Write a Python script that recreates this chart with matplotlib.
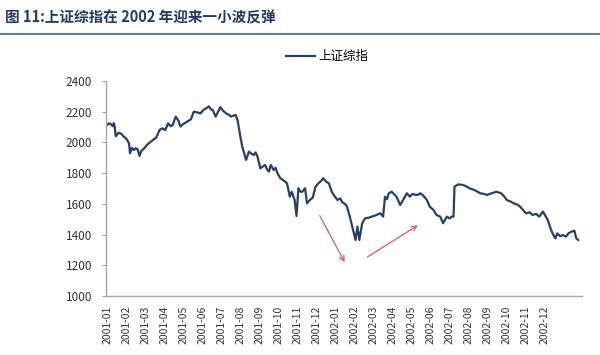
import matplotlib
matplotlib.use('Agg')
import numpy as np
import matplotlib.pyplot as plt

plt.rcParams['font.family'] = ['Noto Sans CJK SC', 'DejaVu Sans']
plt.rcParams['axes.unicode_minus'] = False

# ====================== 数据 ======================
# 交易日序号（每 20 个交易日一个月份标签）与上证综指收盘
days = [0, 2, 4, 6, 7, 8, 9, 12, 15, 17,
        20, 23, 24, 26, 28, 30, 32, 34, 36, 39,
        42, 46, 49, 51, 53, 55, 58, 61, 64, 67,
        69, 72, 75, 77, 80, 84, 88, 91, 95, 98,
        101, 104, 107, 109, 111, 114, 117, 119, 122, 125,
        128, 130, 133, 135, 137, 140, 142, 144, 146, 149,
        152, 154, 156, 158, 161, 164, 166, 168, 170, 172,
        175, 177, 179, 182, 186, 189, 192, 194, 197, 199,
        201, 203, 205, 208, 210, 213, 216, 219, 222, 225,
        227, 230, 233, 236, 239, 242, 245, 247, 250, 252,
        255, 258, 261, 263, 265, 268, 271, 275, 278, 282,
        287, 290, 292, 294, 296, 299, 302, 304, 308, 311,
        315, 318, 321, 324, 327, 329, 332, 336, 339, 343,
        346, 350, 353, 357, 360, 362, 364, 365, 369, 374,
        378, 381, 386, 389, 392, 396, 399, 404, 409, 414,
        417, 420, 424, 427, 431, 434, 437, 440, 444, 447,
        451, 454, 458, 463, 466, 468, 471, 473, 476, 479,
        482, 485, 488, 491, 493, 495]
close = [2113, 2125, 2118, 2105, 2125, 2100, 2040, 2063, 2055, 2040,
         2025, 1994, 1929, 1965, 1950, 1962, 1955, 1912, 1945, 1962,
         1985, 2005, 2020, 2027, 2050, 2081, 2092, 2080, 2124, 2105,
         2114, 2168, 2140, 2103, 2120, 2135, 2150, 2200, 2195, 2189,
         2210, 2222, 2235, 2215, 2211, 2168, 2205, 2229, 2205, 2189,
         2180, 2168, 2175, 2179, 2146, 2037, 1972, 1930, 1886, 1940,
         1925, 1918, 1935, 1907, 1831, 1845, 1853, 1825, 1810, 1853,
         1820, 1835, 1799, 1767, 1750, 1734, 1647, 1679, 1625, 1521,
         1701, 1680, 1679, 1701, 1604, 1625, 1640, 1712, 1734, 1750,
         1767, 1745, 1734, 1679, 1650, 1625, 1636, 1610, 1600, 1582,
         1517, 1441, 1365, 1452, 1365, 1474, 1506, 1510, 1517, 1525,
         1539, 1517, 1647, 1630, 1669, 1679, 1660, 1647, 1593, 1625,
         1669, 1647, 1665, 1658, 1660, 1669, 1655, 1625, 1582, 1560,
         1528, 1517, 1474, 1517, 1505, 1517, 1517, 1712, 1727, 1723,
         1712, 1701, 1690, 1680, 1669, 1665, 1658, 1669, 1679, 1669,
         1650, 1625, 1615, 1604, 1595, 1582, 1560, 1539, 1545, 1528,
         1535, 1517, 1550, 1495, 1440, 1408, 1376, 1408, 1390, 1397,
         1387, 1410, 1419, 1426, 1376, 1365]

month_labels = ['2001-01', '2001-02', '2001-03', '2001-04', '2001-05', '2001-06',
                '2001-07', '2001-08', '2001-09', '2001-10', '2001-11', '2001-12',
                '2002-01', '2002-02', '2002-03', '2002-04', '2002-05', '2002-06',
                '2002-07', '2002-08', '2002-09', '2002-10', '2002-11', '2002-12']
yticks = [1000, 1200, 1400, 1600, 1800, 2000, 2200, 2400]

# 红色箭头：起点、终点 (交易日, 点位)
arrow_down = ((222, 1540), (251, 1205))
arrow_up = ((271, 1245), (329, 1470))

# ====================== 画图 ======================
fig = plt.figure(figsize=(6.0, 3.55), dpi=100)
ax = fig.add_axes([0.177, 0.166, 0.793, 0.606])

line_color = '#23416b'
ax.plot(days, close, color=line_color, lw=1.6, label='上证综指')

for (x0, y0), (x1, y1) in [arrow_down, arrow_up]:
    ax.annotate('', xy=(x1, y1), xytext=(x0, y0),
                arrowprops=dict(arrowstyle='->', color='#e05a5a', lw=0.9,
                                mutation_scale=9))

ax.set_xlim(-1, 499)
ax.set_ylim(1000, 2400)
ax.set_yticks(yticks)
ax.set_yticklabels([str(v) for v in yticks], fontsize=8.5, color='#333333')
ax.set_xticks([20 * i for i in range(len(month_labels))])
ax.set_xticklabels(month_labels, rotation=90, fontsize=7.5, color='#333333')
ax.tick_params(axis='x', length=0, pad=7)
ax.tick_params(axis='y', length=3, color='#a0a0a0', direction='out', pad=7)

for side in ['top', 'right']:
    ax.spines[side].set_visible(False)
for side in ['left', 'bottom']:
    ax.spines[side].set_color('#a8a8a8')
    ax.spines[side].set_linewidth(1.0)

leg = ax.legend(loc='upper center', bbox_to_anchor=(0.465, 1.195), frameon=False,
                fontsize=9, handlelength=2.3, handletextpad=0.3)

fig.text(0.008, 0.95, '图 11:上证综指在 2002 年迎来一小波反弹', fontsize=10.5,
         fontweight='bold', color='#1f3a6a', va='center', ha='left')
fig.add_artist(plt.Line2D([0.0, 1.0], [0.903, 0.903], color='#5e7c99', lw=1.4,
                          transform=fig.transFigure))

plt.savefig('out.png', dpi=100)
plt.close()
